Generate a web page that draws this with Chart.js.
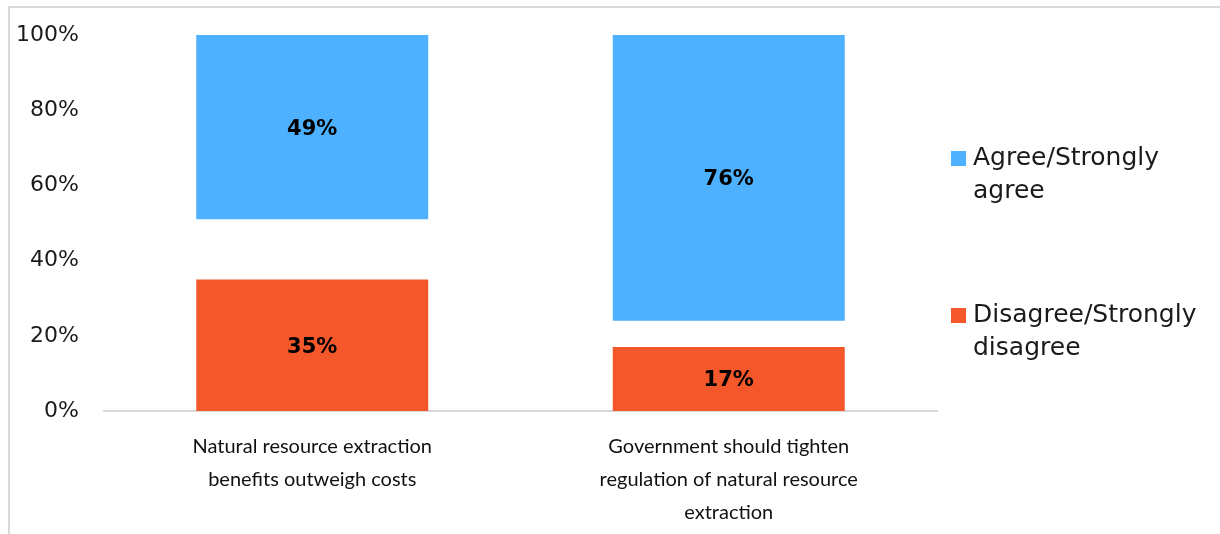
<!DOCTYPE html>
<html>
<head>
<meta charset="utf-8">
<script src="https://cdn.jsdelivr.net/npm/chart.js@4"></script>
<style>
  html, body { margin: 0; padding: 0; background: #fff; }
  #wrap { position: relative; width: 1220px; height: 534px; }
</style>
</head>
<body>
<div id="wrap"><canvas id="c" width="1220" height="534"></canvas></div>
<script>
// Survey statements (multi-line axis labels)
const categories = [
  ["Natural resource extraction", "benefits outweigh costs"],
  ["Government should tighten", "regulation of natural resource", "extraction"]
];
// Share of respondents, percent
const disagree = [35, 17];
const neutral = [16, 7];      // neither / don't know – left unpainted
const agree = [49, 76];
const yTicks = [0, 20, 40, 60, 80, 100];
const seriesNames = {
  agree: ["Agree/Strongly", "agree"],
  disagree: ["Disagree/Strongly", "disagree"]
};

const FONT = "'DejaVu Sans', sans-serif";
const CAT_FONT = "Lato, sans-serif";
const BLUE = "#4db1ff";
const ORANGE = "#f3572a";

// Thin grey frame along the top and left edges
const framePlugin = {
  id: "frame",
  beforeDraw(chart) {
    const ctx = chart.ctx;
    ctx.save();
    ctx.strokeStyle = "#d9d9d9";
    ctx.lineWidth = 2;
    ctx.beginPath();
    ctx.moveTo(9, chart.height);
    ctx.lineTo(9, 7);
    ctx.lineTo(chart.width, 7);
    ctx.stroke();
    ctx.restore();
  }
};

// Bold value labels centred in each visible segment
const valueLabels = {
  id: "valueLabels",
  afterDatasetsDraw(chart) {
    const ctx = chart.ctx;
    ctx.save();
    ctx.font = "bold 21px " + FONT;
    ctx.fillStyle = "#000";
    ctx.textAlign = "center";
    ctx.textBaseline = "middle";
    chart.data.datasets.forEach((ds, i) => {
      if (!ds.showValue) return;
      chart.getDatasetMeta(i).data.forEach((bar, j) => {
        const p = bar.getProps(["x", "y", "base"], true);
        ctx.fillText(ds.data[j] + "%", p.x, (p.y + p.base) / 2 + 2);
      });
    });
    ctx.restore();
  }
};

// Legend on the right with wrapped entries
const sideLegend = {
  id: "sideLegend",
  afterDraw(chart) {
    const ctx = chart.ctx;
    const area = chart.chartArea;
    const items = chart.data.datasets.filter(d => d.legendLines);
    const tops = [area.top + 123, area.top + 280];
    ctx.save();
    ctx.font = "25px " + FONT;
    ctx.textBaseline = "middle";
    ctx.textAlign = "left";
    // legend lists the top segment first
    items.slice().reverse().forEach((ds, k) => {
      const y0 = tops[k];
      ctx.fillStyle = ds.backgroundColor;
      ctx.fillRect(area.right + 14, y0 - 7, 15, 15);
      ctx.fillStyle = "#1a1a1a";
      ds.legendLines.forEach((line, n) => {
        ctx.fillText(line, area.right + 36, y0 + n * 33);
      });
    });
    ctx.restore();
  }
};

new Chart(document.getElementById("c"), {
  type: "bar",
  data: {
    labels: categories,
    datasets: [
      { label: "Disagree/Strongly disagree", data: disagree, backgroundColor: ORANGE,
        showValue: true, legendLines: seriesNames.disagree },
      { label: "Neither", data: neutral, backgroundColor: "rgba(0,0,0,0)" },
      { label: "Agree/Strongly agree", data: agree, backgroundColor: BLUE,
        showValue: true, legendLines: seriesNames.agree }
    ]
  },
  options: {
    responsive: false,
    animation: false,
    devicePixelRatio: 1,
    layout: { padding: { top: 35, right: 283, left: 0, bottom: 0 } },
    datasets: { bar: { categoryPercentage: 1, barPercentage: 0.557 } },
    plugins: { legend: { display: false }, tooltip: { enabled: false } },
    scales: {
      x: {
        stacked: true,
        grid: { display: false },
        border: { color: "#d9d9d9", width: 2 },
        ticks: { font: { family: CAT_FONT, size: 20, lineHeight: "33px" }, color: "#111",
                 padding: 11, maxRotation: 0, autoSkip: false },
        afterFit(s) { s.height = 123; }
      },
      y: {
        stacked: true,
        min: 0,
        max: 100,
        afterBuildTicks(s) { s.ticks = yTicks.map(v => ({ value: v })); },
        grid: { display: false, drawTicks: false },
        border: { display: false },
        ticks: { font: { family: FONT, size: 22 }, color: "#1a1a1a", padding: 25,
                 callback: v => v + "%" },
        afterFit(s) { s.width = 104; s.paddingTop = 0; s.paddingBottom = 0; }
      }
    }
  },
  plugins: [framePlugin, valueLabels, sideLegend]
});
</script>
</body>
</html>
